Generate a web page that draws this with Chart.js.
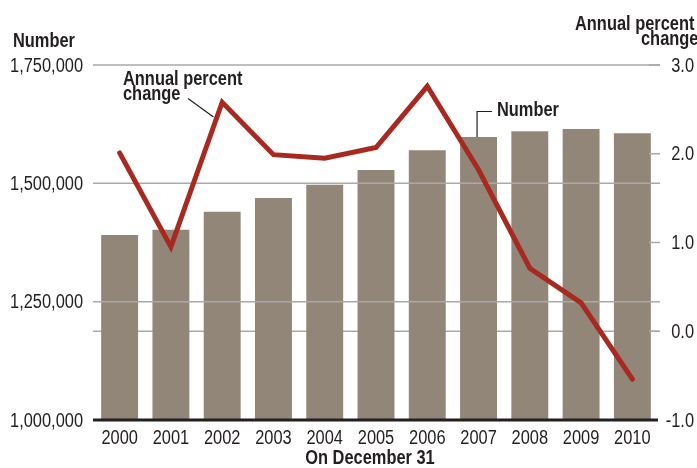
<!DOCTYPE html>
<html>
<head>
<meta charset="utf-8">
<script src="https://cdn.jsdelivr.net/npm/chart.js@4.4.1/dist/chart.umd.min.js"></script>
<style>
  html, body { margin: 0; padding: 0; background: #fff; }
  #wrap { width: 697px; height: 468px; }
</style>
</head>
<body>
<div id="wrap"><canvas id="chart" width="697" height="468"></canvas></div>
<script>
const years = ['2000', '2001', '2002', '2003', '2004', '2005', '2006', '2007', '2008', '2009', '2010'];
const prisoners = [1391000, 1402000, 1440000, 1469000, 1497000, 1528000, 1570000, 1598000, 1610000, 1615000, 1606000];
const percentChange = [2.01, 0.95, 2.58, 1.99, 1.95, 2.07, 2.76, 1.82, 0.71, 0.32, -0.54];
const leftTicks = { min: 1000000, max: 1750000, step: 250000 };
const rightTicks = { min: -1, max: 3, step: 1 };

// no condensed face is installed, so text is squeezed horizontally
const FONT = '"Liberation Sans", Arial, sans-serif';
const SQUEEZE = 0.82;
const INK = '#231f20';
const GRID = '#a9a9a9';

Chart.defaults.font.family = FONT;
Chart.defaults.font.size = 20;
Chart.defaults.color = INK;

const narrowText = (ctx, text, x, y, align, bold, baseline) => {
    ctx.save();
    ctx.translate(x, y);
    ctx.scale(SQUEEZE, 1);
    ctx.font = (bold ? 'bold ' : '') + '20px ' + FONT;
    ctx.textAlign = align;
    ctx.textBaseline = baseline || 'alphabetic';
    ctx.fillStyle = INK;
    ctx.fillText(text, 0, 0);
    ctx.restore();
};

// extra drawing: gridlines over bars, axis line, tick labels, titles and callouts
const decor = {
    id: 'decor',
    beforeDatasetsDraw(chart) {
        const { ctx, chartArea: a, scales: { y1 } } = chart;
        const yz = y1.getPixelForValue(0);
        ctx.save();
        ctx.strokeStyle = GRID;
        ctx.lineWidth = 1.5;
        ctx.beginPath();
        ctx.moveTo(a.left - 1, yz);
        ctx.lineTo(a.right + 1, yz);
        ctx.stroke();
        ctx.restore();
    },
    afterDatasetDraw(chart, args) {
        if (args.index !== 0) return;
        const { ctx, chartArea: a, scales: { y, y1 } } = chart;
        ctx.save();
        ctx.strokeStyle = GRID;
        ctx.lineWidth = 1.5;
        y.ticks.forEach(t => {
            if (t.value <= y.min) return;
            const py = y.getPixelForValue(t.value);
            ctx.beginPath();
            ctx.moveTo(a.left - 1, py);
            ctx.lineTo(a.right + 2, py);
            ctx.stroke();
        });
        y1.ticks.forEach(t => {
            if (t.value <= y1.min) return;
            const py = y1.getPixelForValue(t.value);
            ctx.beginPath();
            ctx.moveTo(a.right - 9, py);
            ctx.lineTo(a.right + 2, py);
            ctx.stroke();
        });
        // base line
        ctx.strokeStyle = INK;
        ctx.lineWidth = 3;
        ctx.beginPath();
        ctx.moveTo(a.left - 1, a.bottom);
        ctx.lineTo(a.right, a.bottom);
        ctx.stroke();
        ctx.restore();
    },
    afterDraw(chart) {
        const { ctx, chartArea: a, scales: { x, y, y1 } } = chart;

        // tick labels
        x.ticks.forEach((t, i) => {
            narrowText(ctx, x.getLabelForValue(t.value), x.getPixelForValue(i), a.bottom + 18, 'center', false, 'middle');
        });
        y.ticks.forEach(t => {
            narrowText(ctx, t.label, a.left - 11, y.getPixelForValue(t.value) + 1, 'right', false, 'middle');
        });
        y1.ticks.forEach(t => {
            narrowText(ctx, t.label, 694, y1.getPixelForValue(t.value) + 1, 'right', false, 'middle');
        });

        // axis titles
        narrowText(ctx, 'Number', 13, 47, 'left', true);
        narrowText(ctx, 'Annual percent', 575, 30, 'left', true);
        narrowText(ctx, 'change', 641, 45, 'left', true);
        narrowText(ctx, 'On December 31', 370, 464, 'center', true);

        // line callout
        narrowText(ctx, 'Annual percent', 123, 85, 'left', true);
        narrowText(ctx, 'change', 123, 99.5, 'left', true);
        // bar callout
        narrowText(ctx, 'Number', 497, 116, 'left', true);

        ctx.save();
        ctx.strokeStyle = INK;
        ctx.lineWidth = 1.2;
        ctx.beginPath();
        ctx.moveTo(188, 98.5);
        ctx.lineTo(213.5, 117);
        ctx.stroke();

        const bx = x.getPixelForValue(7) - 1.5;
        ctx.beginPath();
        ctx.moveTo(bx, y.getPixelForValue(prisoners[7]));
        ctx.lineTo(bx, 111.5);
        ctx.lineTo(492, 111.5);
        ctx.stroke();
        ctx.restore();
    }
};

new Chart(document.getElementById('chart'), {
    data: {
        labels: years,
        datasets: [
            {
                type: 'bar',
                label: 'Number',
                data: prisoners,
                yAxisID: 'y',
                backgroundColor: '#928679',
                categoryPercentage: 1,
                barPercentage: 0.72,
                order: 2
            },
            {
                type: 'line',
                label: 'Annual percent change',
                data: percentChange,
                yAxisID: 'y1',
                borderColor: '#a8291f',
                borderWidth: 5,
                pointRadius: 0,
                tension: 0,
                borderJoinStyle: 'miter',
                borderCapStyle: 'round',
                order: 1
            }
        ]
    },
    options: {
        responsive: false,
        animation: false,
        layout: { padding: { top: 65, left: 0, right: 0, bottom: 0 } },
        plugins: { legend: { display: false }, tooltip: { enabled: false } },
        scales: {
            x: {
                grid: { display: false, drawTicks: false },
                border: { display: false },
                ticks: { display: false, autoSkip: false, maxRotation: 0 },
                afterFit: s => { s.height = 48; }
            },
            y: {
                position: 'left',
                min: leftTicks.min,
                max: leftTicks.max,
                grid: { display: false, drawTicks: false },
                border: { display: false },
                ticks: { display: false, stepSize: leftTicks.step, callback: v => v.toLocaleString('en-US') },
                afterFit: s => { s.width = 94; }
            },
            y1: {
                position: 'right',
                min: rightTicks.min,
                max: rightTicks.max,
                grid: { display: false, drawTicks: false },
                border: { display: false },
                ticks: { display: false, stepSize: rightTicks.step, callback: v => v.toFixed(1) },
                afterFit: s => { s.width = 39; }
            }
        }
    },
    plugins: [decor]
});
</script>
</body>
</html>
